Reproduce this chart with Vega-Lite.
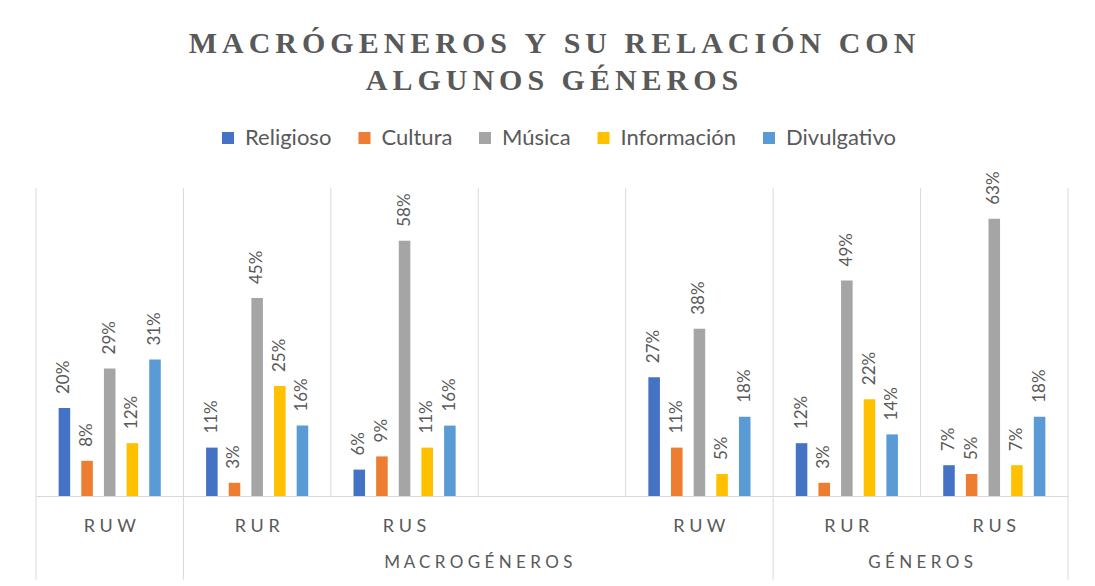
{
  "$schema": "https://vega.github.io/schema/vega-lite/v6.json",
  "width": 1032,
  "height": 308,
  "autosize": {"type": "none"},
  "padding": {"left": 36, "top": 188, "right": 27, "bottom": 90},
  "background": "white",
  "config": {"view": {"stroke": null}, "font": "Lato"},
  "title": {
    "text": ["M\u2006A\u2006C\u2006R\u2006Ó\u2006G\u2006E\u2006N\u2006E\u2006R\u2006O\u2006S\u2006 \u2006Y\u2006 \u2006S\u2006U\u2006 \u2006R\u2006E\u2006L\u2006A\u2006C\u2006I\u2006Ó\u2006N\u2006 \u2006C\u2006O\u2006N", "A\u2006L\u2006G\u2006U\u2006N\u2006O\u2006S\u2006 \u2006G\u2006É\u2006N\u2006E\u2006R\u2006O\u2006S"],
    "font": "Liberation Serif",
    "fontSize": 30,
    "fontWeight": "bold",
    "color": "#595959",
    "anchor": "middle",
    "lineHeight": 37,
    "offset": 31
  },
  "datasets": {
    "bars": [
      {"cat": "RUW1", "serie": "Religioso", "v": 0.20},
      {"cat": "RUW1", "serie": "Cultura", "v": 0.08},
      {"cat": "RUW1", "serie": "Música", "v": 0.29},
      {"cat": "RUW1", "serie": "Información", "v": 0.12},
      {"cat": "RUW1", "serie": "Divulgativo", "v": 0.31},
      {"cat": "RUR1", "serie": "Religioso", "v": 0.11},
      {"cat": "RUR1", "serie": "Cultura", "v": 0.03},
      {"cat": "RUR1", "serie": "Música", "v": 0.45},
      {"cat": "RUR1", "serie": "Información", "v": 0.25},
      {"cat": "RUR1", "serie": "Divulgativo", "v": 0.16},
      {"cat": "RUS1", "serie": "Religioso", "v": 0.06},
      {"cat": "RUS1", "serie": "Cultura", "v": 0.09},
      {"cat": "RUS1", "serie": "Música", "v": 0.58},
      {"cat": "RUS1", "serie": "Información", "v": 0.11},
      {"cat": "RUS1", "serie": "Divulgativo", "v": 0.16},
      {"cat": "RUW2", "serie": "Religioso", "v": 0.27},
      {"cat": "RUW2", "serie": "Cultura", "v": 0.11},
      {"cat": "RUW2", "serie": "Música", "v": 0.38},
      {"cat": "RUW2", "serie": "Información", "v": 0.05},
      {"cat": "RUW2", "serie": "Divulgativo", "v": 0.18},
      {"cat": "RUR2", "serie": "Religioso", "v": 0.12},
      {"cat": "RUR2", "serie": "Cultura", "v": 0.03},
      {"cat": "RUR2", "serie": "Música", "v": 0.49},
      {"cat": "RUR2", "serie": "Información", "v": 0.22},
      {"cat": "RUR2", "serie": "Divulgativo", "v": 0.14},
      {"cat": "RUS2", "serie": "Religioso", "v": 0.07},
      {"cat": "RUS2", "serie": "Cultura", "v": 0.05},
      {"cat": "RUS2", "serie": "Música", "v": 0.63},
      {"cat": "RUS2", "serie": "Información", "v": 0.07},
      {"cat": "RUS2", "serie": "Divulgativo", "v": 0.18}
    ],
    "longSep": [{"cat": "RUW1"}, {"cat": "RUR1"}, {"cat": "RUR2"}],
    "shortSep": [{"cat": "RUS1"}, {"cat": "blank"}, {"cat": "RUW2"}, {"cat": "RUS2"}],
    "rightEdge": [{"cat": "RUS2"}],
    "groups": [
      {"cat": "blank", "g": "MACROGÉNEROS"},
      {"cat": "RUS2", "g": "GÉNEROS"}
    ]
  },
  "layer": [
    {
      "data": {"name": "bars"},
      "mark": {"type": "bar"},
      "encoding": {
        "x": {
          "field": "cat",
          "type": "nominal",
          "scale": {
            "domain": ["RUW1", "RUR1", "RUS1", "blank", "RUW2", "RUR2", "RUS2"],
            "paddingInner": 0,
            "paddingOuter": 0
          },
          "axis": {
            "title": null,
            "labelAngle": 0,
            "ticks": false,
            "domainColor": "#D9D9D9",
            "domainWidth": 1,
            "labelFont": "Lato",
            "labelFontSize": 18,
            "labelColor": "#595959",
            "labelPadding": 21,
            "labelExpr": "datum.value == 'blank' ? '' : join(split(slice(datum.value, 0, 3), ''), ' ')"
          }
        },
        "xOffset": {
          "field": "serie",
          "type": "nominal",
          "scale": {
            "domain": ["Religioso", "Cultura", "Música", "Información", "Divulgativo"],
            "paddingInner": 0.49,
            "paddingOuter": 1.16
          }
        },
        "y": {
          "field": "v",
          "type": "quantitative",
          "scale": {"domain": [0, 0.7], "nice": false, "zero": true},
          "axis": null
        },
        "color": {
          "field": "serie",
          "type": "nominal",
          "scale": {
            "domain": ["Religioso", "Cultura", "Música", "Información", "Divulgativo"],
            "range": ["#4472C4", "#ED7D31", "#A5A5A5", "#FFC000", "#5B9BD5"]
          },
          "legend": {
            "orient": "none",
            "legendX": 181,
            "legendY": -61,
            "direction": "horizontal",
            "title": null,
            "symbolType": "square",
            "symbolSize": 144,
            "symbolStrokeWidth": 0,
            "labelFont": "Lato",
            "labelFontSize": 22,
            "labelColor": "#595959",
            "labelOffset": 6,
            "columnPadding": 21.5
          }
        }
      }
    },
    {
      "data": {"name": "bars"},
      "mark": {
        "type": "text",
        "angle": 270,
        "align": "left",
        "baseline": "middle",
        "dx": 14,
        "font": "Lato",
        "fontSize": 17,
        "color": "#595959"
      },
      "encoding": {
        "x": {"field": "cat", "type": "nominal"},
        "xOffset": {"field": "serie", "type": "nominal"},
        "y": {"field": "v", "type": "quantitative"},
        "text": {"field": "v", "type": "quantitative", "format": ".0%"}
      }
    },
    {
      "data": {"name": "longSep"},
      "mark": {"type": "rule", "color": "#D9D9D9", "strokeWidth": 1},
      "encoding": {
        "x": {"field": "cat", "type": "nominal", "bandPosition": 0},
        "y": {"datum": 0.7, "type": "quantitative"},
        "y2": {"datum": -0.19}
      }
    },
    {
      "data": {"name": "shortSep"},
      "mark": {"type": "rule", "color": "#D9D9D9", "strokeWidth": 1},
      "encoding": {
        "x": {"field": "cat", "type": "nominal", "bandPosition": 0},
        "y": {"datum": 0.7, "type": "quantitative"},
        "y2": {"datum": 0}
      }
    },
    {
      "data": {"name": "rightEdge"},
      "mark": {"type": "rule", "color": "#D9D9D9", "strokeWidth": 1},
      "encoding": {
        "x": {"field": "cat", "type": "nominal", "bandPosition": 1},
        "y": {"datum": 0.7, "type": "quantitative"},
        "y2": {"datum": -0.19}
      }
    },
    {
      "data": {"name": "groups"},
      "transform": [{"calculate": "join(split(datum.g, ''), ' ')", "as": "label"}],
      "mark": {
        "type": "text",
        "align": "center",
        "baseline": "middle",
        "font": "Lato",
        "fontSize": 17,
        "color": "#595959"
      },
      "encoding": {
        "x": {"field": "cat", "type": "nominal", "bandPosition": 0},
        "y": {"datum": -0.152, "type": "quantitative"},
        "text": {"field": "label", "type": "nominal"}
      }
    }
  ]
}
